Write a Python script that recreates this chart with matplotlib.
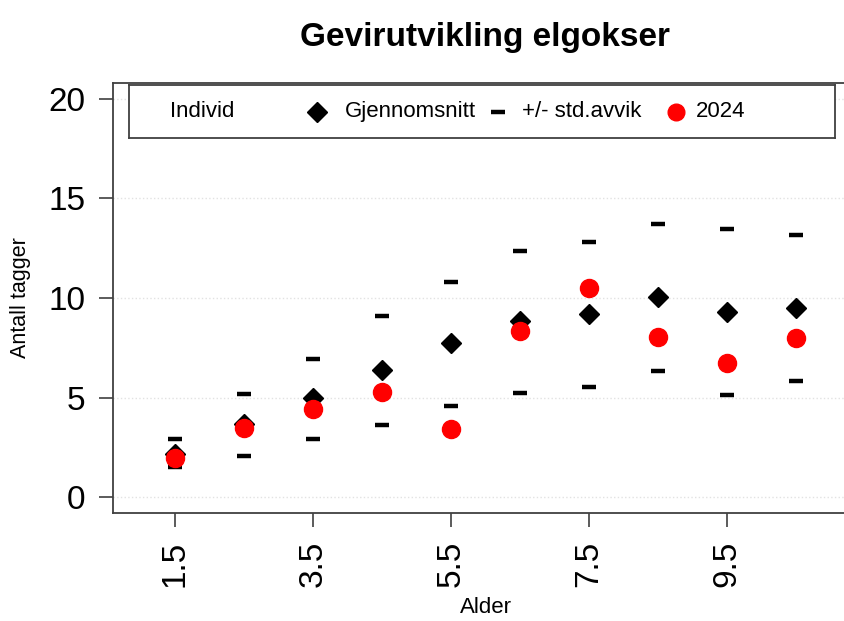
import matplotlib
matplotlib.use("Agg")
import matplotlib.pyplot as plt

plt.rcParams['font.family'] = ['Liberation Sans', 'DejaVu Sans']

# Data
alder = [1.5, 2.5, 3.5, 4.5, 5.5, 6.5, 7.5, 8.5, 9.5, 10.5]
gjennomsnitt = [2.15, 3.65, 5.0, 6.38, 7.72, 8.83, 9.22, 10.06, 9.32, 9.5]
std_over = [2.9, 5.16, 6.95, 9.1, 10.82, 12.34, 12.81, 13.73, 13.46, 13.18]
std_under = [1.5, 2.05, 2.9, 3.6, 4.58, 5.25, 5.55, 6.33, 5.15, 5.83]
aar_2024 = [1.95, 3.49, 4.41, 5.28, 3.44, 8.33, 10.5, 8.03, 6.75, 8.0]

xtick_pos = [1.5, 3.5, 5.5, 7.5, 9.5]
xtick_labels = ["1.5", "3.5", "5.5", "7.5", "9.5"]
ytick_pos = [0, 5, 10, 15, 20]

legend_labels = ["Individ", "Gjennomsnitt", "+/- std.avvik", "2024"]

spine_col = "#404040"

fig = plt.figure(figsize=(8.45, 6.21), dpi=100)
ax = fig.add_axes([0.1337, 0.1739, 0.8817, 0.6924])

ax.yaxis.grid(True, color="#e2e2e2", linestyle=":", linewidth=1.0)
ax.set_axisbelow(True)

# +/- std.avvik as short dashes
ax.plot(alder, std_over, linestyle="none", marker="_", ms=9.5, mew=3.2, color="black")
ax.plot(alder, std_under, linestyle="none", marker="_", ms=9.5, mew=3.2, color="black")
# mean
ax.plot(alder, gjennomsnitt, linestyle="none", marker="D", ms=10, color="black")
# 2024
ax.plot(alder, aar_2024, linestyle="none", marker="o", ms=13, color="#ff0000", mec="#ff0000")

ax.set_xlim(0.6, 11.4)
ax.set_ylim(-0.8, 20.8)
ax.set_xticks(xtick_pos)
ax.set_xticklabels(xtick_labels, rotation=90)
ax.set_yticks(ytick_pos)
ax.tick_params(axis="both", labelsize=24, length=10, width=1.2, color=spine_col, pad=10)
for s in ax.spines.values():
    s.set_color(spine_col)
    s.set_linewidth(1.3)

ax.set_title("Gevirutvikling elgokser", fontsize=24, fontweight="bold", pad=27)
ax.set_xlabel("Alder", fontsize=16, labelpad=7)
ax.set_ylabel("Antall tagger", fontsize=15.5, labelpad=12)

# legend box drawn like the R legend with equal column widths
leg = ax.inset_axes([0.0215, 0.872, 0.948, 0.123])
leg.set_xlim(0, 1)
leg.set_ylim(0, 1)
leg.set_xticks([])
leg.set_yticks([])
for s in leg.spines.values():
    s.set_color(spine_col)
    s.set_linewidth(1.3)
sym_x = [0.026, 0.266, 0.522, 0.775]
txt_x = [0.058, 0.305, 0.556, 0.802]
leg.plot([sym_x[1]], [0.5], linestyle="none", marker="D", ms=10, color="black")
leg.plot([sym_x[2]], [0.5], linestyle="none", marker="_", ms=9.5, mew=3.2, color="black")
leg.plot([sym_x[3]], [0.5], linestyle="none", marker="o", ms=12, color="#ff0000")
for x, lab in zip(txt_x, legend_labels):
    leg.text(x, 0.5, lab, fontsize=16, va="center", ha="left")

fig.savefig("out.png", dpi=100)
